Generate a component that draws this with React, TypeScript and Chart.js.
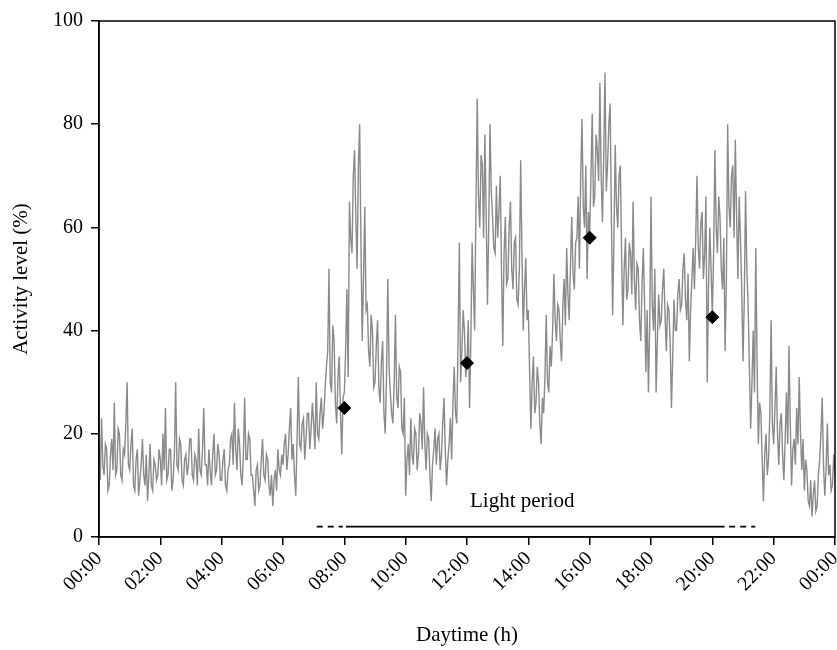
import React, { useEffect, useRef } from "react";
import { Chart, registerables } from "chart.js";

Chart.register(...registerables);

// Activity level (%) sampled every 2.5 minutes from 00:00 to 24:00 (24 samples per hour)
const STEP_MIN = 2.5;
const H00 = [15, 11, 23, 14, 12, 18, 17, 9, 10, 16, 19, 13, 26, 12, 13, 21, 20, 12, 11, 17, 16, 22, 30, 14];
const H01 = [13, 18, 21, 10, 9, 15, 17, 8, 11, 14, 19, 12, 10, 16, 7, 12, 18, 10, 9, 15, 14, 11, 12, 17];
const H02 = [15, 10, 20, 13, 25, 11, 12, 17, 17, 9, 11, 16, 30, 14, 13, 19, 18, 11, 10, 15, 16, 12, 14, 19];
const H03 = [19, 12, 11, 16, 15, 10, 21, 13, 12, 17, 25, 14, 14, 10, 17, 13, 10, 16, 20, 12, 13, 18, 16, 11];
const H04 = [11, 15, 17, 10, 9, 13, 14, 19, 20, 14, 26, 17, 13, 21, 18, 12, 10, 16, 27, 15, 15, 20, 19, 12];
const H05 = [12, 9, 6, 13, 14, 9, 10, 15, 19, 12, 11, 16, 15, 10, 8, 12, 6, 11, 13, 9, 17, 13, 12, 16];
const H06 = [14, 18, 20, 13, 16, 21, 25, 15, 18, 12, 8, 19, 31, 18, 17, 22, 23, 15, 19, 24, 24, 17, 21, 26];
const H07 = [22, 17, 30, 20, 19, 24, 27, 21, 24, 29, 33, 36, 52, 30, 28, 41, 38, 26, 22, 31, 35, 24, 16, 27];
const H08 = [28, 36, 48, 31, 65, 58, 55, 70, 75, 62, 52, 72, 80, 57, 38, 50, 64, 44, 45, 36, 33, 43, 40, 29];
const H09 = [30, 37, 42, 29, 26, 34, 38, 24, 20, 31, 50, 33, 28, 24, 22, 30, 43, 27, 25, 33, 32, 21, 20, 27];
const H10 = [8, 15, 18, 12, 23, 16, 14, 21, 20, 13, 16, 24, 22, 17, 29, 18, 13, 20, 19, 12, 7, 14, 17, 21];
const H11 = [14, 19, 20, 13, 16, 22, 27, 17, 10, 15, 18, 23, 15, 26, 33, 24, 22, 38, 57, 30, 36, 44, 40, 31];
const H12 = [34, 42, 25, 38, 57, 48, 40, 64, 85, 66, 60, 74, 72, 58, 78, 63, 45, 60, 80, 67, 62, 56, 55, 68];
const H13 = [58, 63, 70, 52, 37, 55, 62, 49, 50, 60, 65, 52, 48, 57, 58, 46, 45, 52, 73, 55, 40, 48, 54, 42];
const H14 = [44, 32, 21, 30, 35, 24, 26, 33, 30, 22, 18, 27, 24, 31, 43, 30, 28, 37, 33, 40, 51, 42, 38, 45];
const H15 = [44, 38, 34, 45, 50, 41, 56, 47, 42, 53, 62, 51, 48, 57, 58, 66, 52, 70, 81, 64, 60, 72, 50, 63];
const H16 = [58, 70, 82, 64, 66, 78, 75, 69, 88, 70, 61, 74, 90, 67, 72, 80, 84, 62, 43, 58, 76, 64, 60, 70];
const H17 = [72, 55, 41, 52, 58, 46, 48, 57, 55, 47, 65, 50, 44, 53, 52, 42, 38, 49, 56, 45, 32, 44, 28, 41];
const H18 = [66, 45, 40, 52, 28, 38, 47, 41, 42, 48, 52, 43, 36, 45, 44, 38, 25, 35, 46, 40, 40, 47, 50, 44];
const H19 = [45, 52, 55, 46, 42, 51, 34, 44, 50, 56, 48, 58, 70, 56, 52, 61, 63, 50, 55, 66, 30, 48, 60, 52];
const H20 = [43, 55, 75, 60, 55, 66, 62, 52, 48, 58, 36, 50, 80, 64, 60, 70, 72, 58, 77, 62, 50, 66, 58, 48];
const H21 = [34, 46, 67, 52, 45, 33, 21, 30, 40, 28, 56, 34, 18, 26, 24, 15, 7, 16, 20, 12, 15, 24, 42, 22];
const H22 = [18, 25, 33, 20, 14, 22, 24, 16, 11, 19, 28, 18, 37, 22, 10, 17, 19, 14, 25, 18, 31, 20, 13, 19];
const H23 = [9, 15, 13, 7, 6, 11, 4, 8, 11, 5, 6, 12, 15, 20, 27, 14, 8, 13, 22, 12, 14, 9, 10, 16];
const H24 = [12];

const ACTIVITY = [
  ...H00, ...H01, ...H02, ...H03, ...H04, ...H05, ...H06, ...H07,
  ...H08, ...H09, ...H10, ...H11, ...H12, ...H13, ...H14, ...H15,
  ...H16, ...H17, ...H18, ...H19, ...H20, ...H21, ...H22, ...H23, ...H24,
];

// Mean markers (hour, level)
const MARK_HOURS = [8, 12, 16, 20];
const MARK_VALUES = [25, 33.7, 58, 42.6];

// Light period bar (hours)
const LIGHT_LEVEL = 2;
const LIGHT_SOLID = [8.05, 20.4];
const LIGHT_DASH_A = [7.1, 7.95];
const LIGHT_DASH_B = [20.55, 21.4];
const LIGHT_LABEL = "Light period";
const LIGHT_LABEL_AT = [13.8, 6.8];

const X_TICKS = [0, 2, 4, 6, 8, 10, 12, 14, 16, 18, 20, 22, 24];

const FONT = "'Liberation Serif', 'Times New Roman', serif";

export default function App() {
  const ref = useRef<HTMLCanvasElement | null>(null);

  useEffect(() => {
    document.body.style.margin = "0";
    const canvas = ref.current;
    if (!canvas) return;

    const lineData = ACTIVITY.map((v, i) => ({ x: (i * STEP_MIN) / 60, y: v }));
    const markData = MARK_HOURS.map((h, i) => ({ x: h, y: MARK_VALUES[i] }));

    const boxPlugin = {
      id: "boxAndLabel",
      afterDraw(chart: any) {
        const { ctx, chartArea, scales } = chart;
        ctx.save();
        ctx.strokeStyle = "#000";
        ctx.lineWidth = 1.5;
        ctx.strokeRect(chartArea.left, chartArea.top, chartArea.right - chartArea.left, chartArea.bottom - chartArea.top);
        ctx.fillStyle = "#000";
        ctx.font = `21px ${FONT}`;
        ctx.textAlign = "center";
        ctx.textBaseline = "middle";
        ctx.fillText(
          LIGHT_LABEL,
          scales.x.getPixelForValue(LIGHT_LABEL_AT[0]),
          scales.y.getPixelForValue(LIGHT_LABEL_AT[1])
        );
        ctx.restore();
      },
    };

    const chart = new Chart(canvas, {
      type: "line",
      data: {
        datasets: [
          {
            type: "scatter",
            data: markData,
            pointStyle: "rectRot",
            pointRadius: 6.5,
            pointBackgroundColor: "#000",
            pointBorderColor: "#000",
            showLine: false,
            order: 0,
          } as any,
          {
            data: lineData,
            borderColor: "#8a8a8a",
            borderWidth: 1.4,
            pointRadius: 0,
            tension: 0,
            order: 1,
          },
          {
            data: [
              { x: LIGHT_SOLID[0], y: LIGHT_LEVEL },
              { x: LIGHT_SOLID[1], y: LIGHT_LEVEL },
            ],
            borderColor: "#000",
            borderWidth: 1.8,
            pointRadius: 0,
            order: 2,
          },
          {
            data: [
              { x: LIGHT_DASH_A[0], y: LIGHT_LEVEL },
              { x: LIGHT_DASH_A[1], y: LIGHT_LEVEL },
              { x: (LIGHT_DASH_A[1] + LIGHT_DASH_B[0]) / 2, y: null },
              { x: LIGHT_DASH_B[0], y: LIGHT_LEVEL },
              { x: LIGHT_DASH_B[1], y: LIGHT_LEVEL },
            ],
            borderColor: "#000",
            borderWidth: 1.8,
            borderDash: [6, 5],
            pointRadius: 0,
            spanGaps: false,
            order: 2,
          },
        ],
      },
      options: {
        responsive: false,
        animation: false,
        layout: { autoPadding: false, padding: { top: 21, right: 2, left: 0, bottom: 0 } },
        plugins: {
          legend: { display: false },
          tooltip: { enabled: false },
        },
        scales: {
          x: {
            type: "linear",
            min: 0,
            max: 24,
            afterBuildTicks(scale: any) {
              scale.ticks = X_TICKS.map((v) => ({ value: v }));
            },
            afterFit(scale: any) {
              scale.height = 113;
              scale.paddingLeft = 0;
              scale.paddingRight = 0;
            },
            ticks: {
              minRotation: 45,
              maxRotation: 45,
              color: "#000",
              font: { family: FONT, size: 20 },
              padding: 2,
              callback: (v: any) => `${String(Number(v) % 24).padStart(2, "0")}:00`,
            },
            grid: {
              drawOnChartArea: false,
              drawTicks: true,
              tickLength: 8,
              color: "#000",
              lineWidth: 1.5,
            },
            border: { display: true, color: "#000", width: 1.5 },
            title: {
              display: true,
              text: "Daytime (h)",
              color: "#000",
              font: { family: FONT, size: 21 },
              padding: { top: 0, bottom: 2 },
            },
          },
          y: {
            min: 0,
            max: 100,
            afterFit(scale: any) {
              scale.width = 99;
              scale.paddingTop = 0;
              scale.paddingBottom = 0;
            },
            ticks: {
              stepSize: 20,
              color: "#000",
              font: { family: FONT, size: 20 },
              padding: 8,
            },
            grid: {
              drawOnChartArea: false,
              drawTicks: true,
              tickLength: 8,
              color: "#000",
              lineWidth: 1.5,
            },
            border: { display: true, color: "#000", width: 1.5 },
            title: {
              display: true,
              text: "Activity level (%)",
              color: "#000",
              font: { family: FONT, size: 21 },
              padding: { top: 9, bottom: 0 },
            },
          },
        },
      },
      plugins: [boxPlugin],
    });

    return () => chart.destroy();
  }, []);

  return (
    <div style={{ width: 837, height: 650, background: "#fff" }}>
      <canvas ref={ref} width={837} height={650} />
    </div>
  );
}
